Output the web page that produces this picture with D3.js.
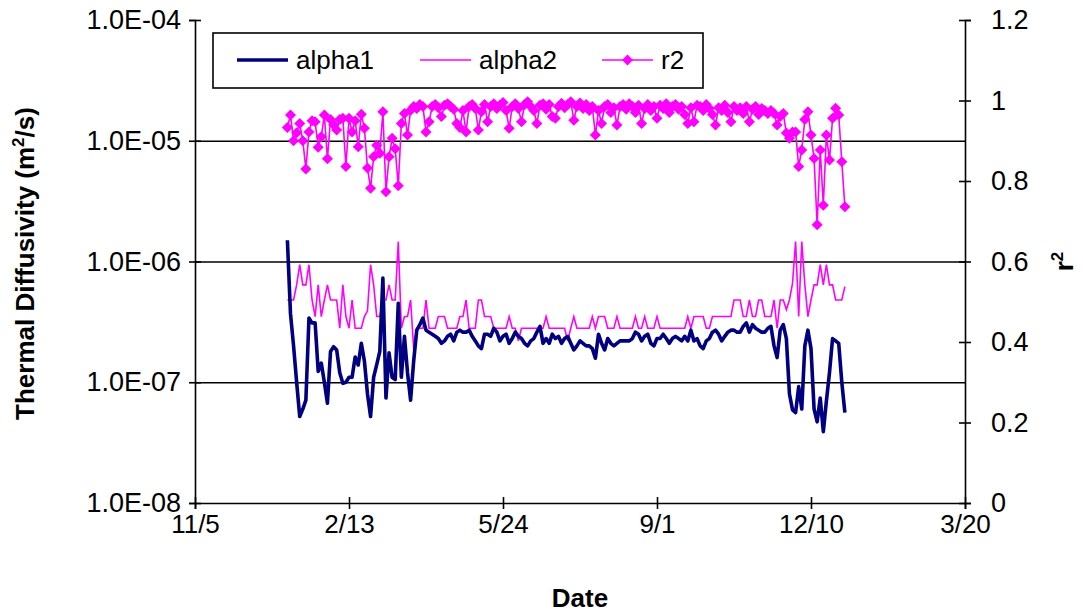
<!DOCTYPE html>
<html>
<head>
<meta charset="utf-8">
<script src="https://cdn.jsdelivr.net/npm/d3@7"></script>
<style>
  body { margin: 0; background: #fff; }
  text { font-family: "Liberation Sans", Arial, sans-serif; }
</style>
</head>
<body>
<script>
// ---------------- DATA ----------------
const startDate = "2005-01-04";      // first observation
const stepDays = 2;                  // observation interval (days)

const alpha1 = [
  1.5e-6, 3.7e-7, 2.0e-7, 1.0e-7, 5.2e-8, 6.0e-8, 7.1e-8, 3.4e-7, 3.1e-7, 3.1e-7,
  1.23e-7, 1.44e-7, 1.0e-7, 6.7e-8, 1.8e-7, 1.97e-7, 1.85e-7, 1.2e-7, 9.8e-8, 1.0e-7,
  1.1e-7, 1.1e-7, 1.62e-7, 1.39e-7, 2.1e-7, 1.5e-7, 8.0e-8, 5.2e-8, 1.1e-7, 1.4e-7,
  1.8e-7, 7.3e-7, 7.4e-8, 1.75e-7, 1.1e-7, 1.05e-7, 4.5e-7, 1.1e-7, 2.4e-7, 1.2e-7,
  7.1e-8, 1.5e-7, 2.7e-7, 3.0e-7, 3.4e-7, 2.7e-7, 2.6e-7, 2.5e-7, 2.4e-7, 2.3e-7,
  2.1e-7, 2.2e-7, 2.4e-7, 2.5e-7, 2.2e-7, 2.6e-7, 2.7e-7, 2.6e-7, 2.6e-7, 2.7e-7,
  2.4e-7, 2.2e-7, 2.0e-7, 1.9e-7, 2.5e-7, 2.5e-7, 2.4e-7, 2.8e-7, 2.6e-7, 2.2e-7,
  2.4e-7, 2.5e-7, 2.1e-7, 2.3e-7, 2.6e-7, 2.4e-7, 2.3e-7, 2.1e-7, 2.0e-7, 2.2e-7,
  2.3e-7, 2.6e-7, 2.9e-7, 2.1e-7, 2.3e-7, 2.1e-7, 2.5e-7, 2.3e-7, 2.4e-7, 2.1e-7,
  2.3e-7, 2.4e-7, 2.1e-7, 1.85e-7, 2.0e-7, 2.2e-7, 2.1e-7, 2.0e-7, 2.0e-7, 1.9e-7,
  1.58e-7, 2.5e-7, 2.1e-7, 1.85e-7, 2.3e-7, 2.1e-7, 2.0e-7, 2.1e-7, 2.2e-7, 2.2e-7,
  2.2e-7, 2.2e-7, 2.3e-7, 2.6e-7, 2.5e-7, 2.2e-7, 2.4e-7, 2.5e-7, 2.1e-7, 2.0e-7,
  2.3e-7, 2.3e-7, 2.5e-7, 2.3e-7, 2.1e-7, 2.3e-7, 2.4e-7, 2.3e-7, 2.2e-7, 2.4e-7,
  2.2e-7, 2.7e-7, 2.2e-7, 2.3e-7, 2.0e-7, 1.9e-7, 2.2e-7, 2.3e-7, 2.6e-7, 2.7e-7,
  2.5e-7, 2.2e-7, 2.4e-7, 2.6e-7, 2.7e-7, 2.7e-7, 2.6e-7, 2.6e-7, 2.9e-7, 3.1e-7,
  2.6e-7, 3.0e-7, 2.8e-7, 2.7e-7, 2.6e-7, 2.6e-7, 2.8e-7, 2.9e-7, 2.0e-7, 1.6e-7,
  2.7e-7, 3.0e-7, 2.3e-7, 8.0e-8, 5.9e-8, 5.6e-8, 9.2e-8, 6.0e-8, 2.0e-7, 2.7e-7,
  1.9e-7, 6.0e-8, 4.7e-8, 7.4e-8, 3.9e-8, 7.0e-8, 1.2e-7, 2.3e-7, 2.2e-7, 2.1e-7,
  1.0e-7, 5.6e-8
];

const alpha2 = [
  4.8e-7, 4.8e-7, 4.8e-7, 6.4e-7, 9.4e-7, 6.4e-7, 6.4e-7, 9.4e-7, 4.8e-7, 3.5e-7,
  6.4e-7, 3.5e-7, 4.8e-7, 6.4e-7, 4.8e-7, 4.8e-7, 4.8e-7, 2.8e-7, 6.4e-7, 3.5e-7,
  2.8e-7, 4.8e-7, 2.8e-7, 2.8e-7, 2.8e-7, 3.5e-7, 3.9e-7, 9.4e-7, 6.4e-7, 3.5e-7,
  3.5e-7, 4.8e-7, 4.8e-7, 6.4e-7, 4.8e-7, 4.8e-7, 1.46e-6, 2.8e-7, 3.5e-7, 3.5e-7,
  4.8e-7, 1.9e-7, 2.8e-7, 2.8e-7, 2.8e-7, 4.8e-7, 2.8e-7, 2.8e-7, 2.8e-7, 3.5e-7,
  3.5e-7, 3.5e-7, 2.8e-7, 2.8e-7, 2.8e-7, 2.8e-7, 3.5e-7, 3.5e-7, 4.8e-7, 2.8e-7,
  2.8e-7, 2.8e-7, 4.8e-7, 4.8e-7, 3.5e-7, 3.5e-7, 3.5e-7, 2.8e-7, 2.8e-7, 2.8e-7,
  2.8e-7, 2.8e-7, 3.5e-7, 2.8e-7, 2.8e-7, 2.2e-7, 2.8e-7, 2.8e-7, 2.8e-7, 2.8e-7,
  2.8e-7, 2.8e-7, 2.8e-7, 2.8e-7, 3.5e-7, 2.8e-7, 2.8e-7, 2.8e-7, 2.8e-7, 2.8e-7,
  2.8e-7, 2.2e-7, 2.8e-7, 3.5e-7, 2.8e-7, 2.8e-7, 2.8e-7, 2.8e-7, 2.8e-7, 3.5e-7,
  2.8e-7, 3.5e-7, 3.5e-7, 3.5e-7, 2.8e-7, 2.8e-7, 2.8e-7, 3.5e-7, 2.8e-7, 2.8e-7,
  2.8e-7, 2.8e-7, 2.8e-7, 3.5e-7, 2.8e-7, 2.8e-7, 3.5e-7, 2.8e-7, 2.8e-7, 2.8e-7,
  3.5e-7, 2.8e-7, 2.8e-7, 2.8e-7, 2.8e-7, 2.8e-7, 2.8e-7, 2.8e-7, 2.8e-7, 2.8e-7,
  3.5e-7, 2.8e-7, 3.5e-7, 3.5e-7, 3.5e-7, 3.5e-7, 2.8e-7, 2.8e-7, 3.5e-7, 3.5e-7,
  3.5e-7, 3.5e-7, 3.5e-7, 3.5e-7, 3.5e-7, 4.8e-7, 4.8e-7, 4.8e-7, 3.5e-7, 3.5e-7,
  4.8e-7, 3.5e-7, 3.5e-7, 4.8e-7, 4.8e-7, 3.5e-7, 3.5e-7, 3.5e-7, 4.8e-7, 2.8e-7,
  4.8e-7, 4.8e-7, 4.0e-7, 4.8e-7, 6.6e-7, 1.46e-6, 3.5e-7, 1.46e-6, 6.4e-7, 3.5e-7,
  4.8e-7, 6.4e-7, 6.4e-7, 9.4e-7, 6.4e-7, 9.4e-7, 6.4e-7, 6.4e-7, 4.8e-7, 4.8e-7,
  4.8e-7, 6.2e-7
];

const r2 = [
  0.933, 0.964, 0.900, 0.920, 0.943, 0.900, 0.830, 0.922, 0.950, 0.947,
  0.884, 0.910, 0.964, 0.855, 0.953, 0.940, 0.927, 0.953, 0.956, 0.836,
  0.956, 0.922, 0.950, 0.885, 0.966, 0.931, 0.832, 0.782, 0.860, 0.889,
  0.869, 0.972, 0.773, 0.860, 0.906, 0.880, 0.788, 0.943, 0.968, 0.914,
  0.976, 0.985, 0.980, 0.990, 0.985, 0.922, 0.947, 0.985, 0.990, 0.982,
  0.960, 0.988, 0.992, 0.985, 0.978, 0.943, 0.933, 0.975, 0.922, 0.985,
  0.990, 0.980, 0.927, 0.972, 0.990, 0.947, 0.985, 0.992, 0.980, 0.988,
  0.995, 0.975, 0.931, 0.985, 0.992, 0.980, 0.947, 0.990, 0.997, 0.985,
  0.975, 0.943, 0.988, 0.992, 0.978, 0.990, 0.960, 0.956, 0.985, 0.993,
  0.982, 0.990, 0.997, 0.951, 0.985, 0.994, 0.980, 0.990, 0.975, 0.985,
  0.914, 0.975, 0.943, 0.985, 0.990, 0.970, 0.982, 0.939, 0.985, 0.990,
  0.978, 0.992, 0.985, 0.970, 0.988, 0.943, 0.980, 0.990, 0.975, 0.985,
  0.956, 0.988, 0.980, 0.992, 0.970, 0.985, 0.990, 0.978, 0.985, 0.965,
  0.943, 0.982, 0.947, 0.988, 0.985, 0.975, 0.990, 0.980, 0.965, 0.939,
  0.982, 0.975, 0.988, 0.970, 0.947, 0.985, 0.975, 0.982, 0.968, 0.985,
  0.947, 0.978, 0.985, 0.965, 0.980, 0.975, 0.968, 0.975, 0.968, 0.939,
  0.960, 0.968, 0.919, 0.906, 0.922, 0.922, 0.836, 0.877, 0.953, 0.972,
  0.914, 0.856, 0.691, 0.877, 0.740, 0.914, 0.852, 0.956, 0.981, 0.964,
  0.848, 0.736
];

const xDomain = ["2004-11-05", "2006-03-20"];
const xTickDates = ["2004-11-05", "2005-02-13", "2005-05-24", "2005-09-01", "2005-12-10", "2006-03-20"];
const xTickLabels = ["11/5", "2/13", "5/24", "9/1", "12/10", "3/20"];
const leftTicks = [1e-8, 1e-7, 1e-6, 1e-5, 1e-4];
const leftTickLabels = ["1.0E-08", "1.0E-07", "1.0E-06", "1.0E-05", "1.0E-04"];
const gridTicks = [1e-7, 1e-6, 1e-5];
const rightTicks = [0, 0.2, 0.4, 0.6, 0.8, 1.0, 1.2];
const rightTickLabels = ["0", "0.2", "0.4", "0.6", "0.8", "1", "1.2"];
const seriesNames = ["alpha1", "alpha2", "r2"];

// ---------------- LAYOUT ----------------
const W = 1083, H = 613;
const L = 195, R = 965, T = 20, B = 503;
const FS = 27;      // tick labels
const TFS = 26;     // titles & legend

const parse = d3.utcParse("%Y-%m-%d");
const t0 = parse(startDate);
const dates = alpha1.map((_, i) => d3.utcDay.offset(t0, i * stepDays));

const x = d3.scaleUtc().domain(xDomain.map(parse)).range([L, R]);
const yL = d3.scaleLog().domain([1e-8, 1e-4]).range([B, T]);
const yR = d3.scaleLinear().domain([0, 1.2]).range([B, T]);

const svg = d3.select("body").append("svg").attr("width", W).attr("height", H);

// gridlines
svg.append("g").attr("transform", `translate(${L},0)`)
  .call(d3.axisLeft(yL).tickValues(gridTicks).tickSize(-(R - L)).tickFormat(""))
  .call(g => g.select(".domain").remove())
  .call(g => g.selectAll("line").attr("stroke", "#000").attr("stroke-width", 1.6));

// left axis
const gL = svg.append("g").attr("transform", `translate(${L},0)`)
  .call(d3.axisLeft(yL).tickValues(leftTicks).tickSize(6).tickPadding(8)
    .tickFormat(d => leftTickLabels[leftTicks.indexOf(d)]));
gL.selectAll(".tick line").attr("x1", 6);
// right axis
const gR = svg.append("g").attr("transform", `translate(${R},0)`)
  .call(d3.axisRight(yR).tickValues(rightTicks).tickSize(6).tickPadding(20)
    .tickFormat(d => rightTickLabels[rightTicks.indexOf(d)]));
gR.selectAll(".tick line").attr("x1", -6);
// bottom axis
const xt = xTickDates.map(parse);
const gB = svg.append("g").attr("transform", `translate(0,${B})`)
  .call(d3.axisBottom(x).tickValues(xt).tickSize(6).tickPadding(6)
    .tickFormat(d => xTickLabels[xt.findIndex(t => +t === +d)]));
gB.selectAll(".tick line").attr("y1", -6);

[gL, gR, gB].forEach(g => {
  g.select(".domain").attr("stroke", "#000").attr("stroke-width", 1.6);
  g.selectAll(".tick line").attr("stroke", "#000").attr("stroke-width", 1.6);
  g.selectAll(".tick text").attr("font-size", FS).attr("fill", "#000")
    .style("font-family", "'Liberation Sans', Arial, sans-serif");
});
gB.selectAll(".tick text").attr("font-size", 26);

// axis titles
svg.append("text")
  .attr("transform", `translate(34,${(T + B) / 2 + 2}) rotate(-90)`)
  .attr("text-anchor", "middle").attr("font-size", TFS).attr("font-weight", "bold")
  .html('Thermal Diffusivity (m<tspan dy="-10" font-size="17">2</tspan><tspan dy="10">/s)</tspan>');
svg.append("text")
  .attr("transform", `translate(1073,${(T + B) / 2}) rotate(-90)`)
  .attr("text-anchor", "middle").attr("font-size", TFS).attr("font-weight", "bold")
  .html('r<tspan dy="-10" font-size="17">2</tspan>');
svg.append("text")
  .attr("x", (L + R) / 2).attr("y", 607)
  .attr("text-anchor", "middle").attr("font-size", TFS).attr("font-weight", "bold")
  .text("Date");

// series
const lineL = d3.line().x((d, i) => x(dates[i])).y(d => yL(d));
const lineR = d3.line().x((d, i) => x(dates[i])).y(d => yR(d));
const plot = svg.append("g");

plot.append("path").datum(alpha2).attr("d", lineL)
  .attr("fill", "none").attr("stroke", "#FF00FF").attr("stroke-width", 1.6);
plot.append("path").datum(alpha1).attr("d", lineL)
  .attr("fill", "none").attr("stroke", "#000080").attr("stroke-width", 3.6)
  .attr("stroke-linejoin", "round");
plot.append("path").datum(r2).attr("d", lineR)
  .attr("fill", "none").attr("stroke", "#FF00FF").attr("stroke-width", 1.6);
const diamond = "M0,-5.5L5.5,0L0,5.5L-5.5,0Z";
plot.selectAll(".mk").data(r2).join("path").attr("class", "mk")
  .attr("d", diamond)
  .attr("transform", (d, i) => `translate(${x(dates[i])},${yR(d)})`)
  .attr("fill", "#FF00FF");

// legend
const lg = svg.append("g");
lg.append("rect").attr("x", 213).attr("y", 33).attr("width", 490).attr("height", 55)
  .attr("fill", "#fff").attr("stroke", "#000").attr("stroke-width", 1.6);
const items = [
  { name: seriesNames[0], x0: 237, color: "#000080", w: 3.6, marker: false },
  { name: seriesNames[1], x0: 420, color: "#FF00FF", w: 1.6, marker: false },
  { name: seriesNames[2], x0: 602, color: "#FF00FF", w: 1.6, marker: true }
];
items.forEach(it => {
  lg.append("line").attr("x1", it.x0).attr("x2", it.x0 + 51).attr("y1", 60).attr("y2", 60)
    .attr("stroke", it.color).attr("stroke-width", it.w);
  if (it.marker) lg.append("path").attr("d", diamond)
    .attr("transform", `translate(${it.x0 + 25.5},60)`).attr("fill", it.color);
  lg.append("text").attr("x", it.x0 + 59).attr("y", 69).attr("font-size", TFS).text(it.name);
});
</script>
</body>
</html>
